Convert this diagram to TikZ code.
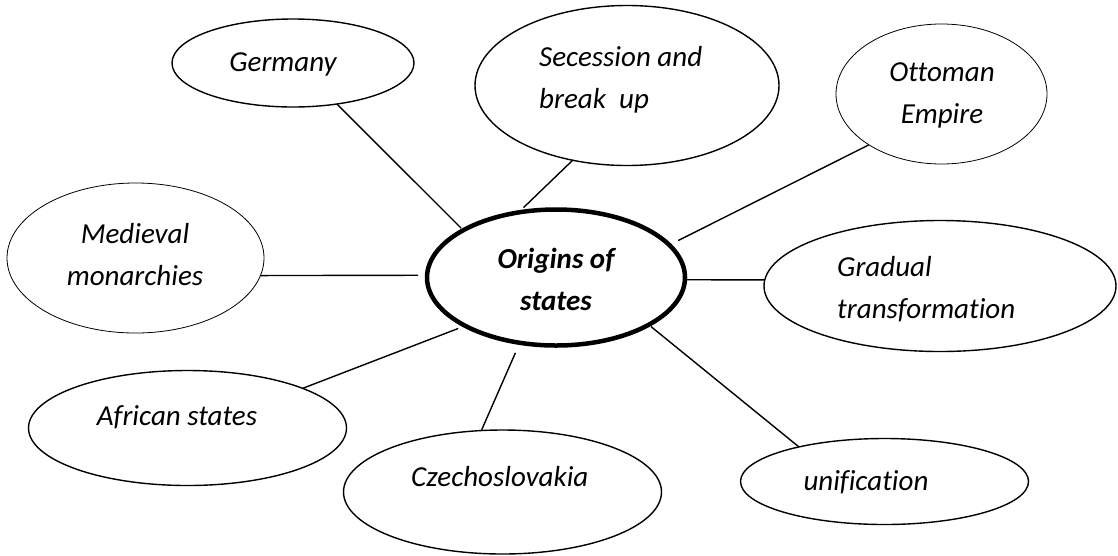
\documentclass[tikz,border=0pt]{standalone}
\usepackage{fontspec}
\setmainfont{Carlito}[Ligatures=NoCommon]
\usetikzlibrary{shapes.geometric}
\begin{document}
\begin{tikzpicture}[x=1pt,y=-1pt,
  bubble/.style={ellipse,draw,line width=1.4pt,inner sep=0pt,outer sep=0pt},
  thinbubble/.style={bubble,line width=0.8pt},
  hub/.style={bubble,line width=4.5pt},
  lbl/.style={font=\fontsize{29}{42}\selectfont\itshape,inner sep=0pt,anchor=base},
  link/.style={line width=1.4pt}]
\useasboundingbox (0,0) rectangle (1118,555);

% the central topic and the eight surrounding bubbles
\node[hub,minimum width=258pt,minimum height=136pt] (hub) at (556,277.5) {};
\node[bubble,minimum width=242pt,minimum height=88pt] (germany) at (293,63) {};
\node[bubble,minimum width=304pt,minimum height=160pt] (secession) at (627,85.5) {};
\node[thinbubble,minimum width=211pt,minimum height=140pt] (ottoman) at (941.5,94) {};
\node[thinbubble,minimum width=257pt,minimum height=150pt] (medieval) at (135.5,258) {};
\node[bubble,minimum width=352pt,minimum height=131pt] (gradual) at (940,286) {};
\node[bubble,minimum width=318pt,minimum height=115pt] (african) at (187.5,428) {};
\node[bubble,minimum width=318pt,minimum height=124pt] (czech) at (502.5,492) {};
\node[bubble,minimum width=288pt,minimum height=86pt] (unif) at (884.5,481.5) {};

% texts (a two-line node sits on the baseline of its last line)
\node[lbl,font=\fontsize{29}{42}\selectfont\bfseries\itshape,align=center] (hub-t) at (556,310) {Origins of\\states};
\node[lbl] (germany-t) at (283,71) {Germany};
\node[lbl,anchor=base west,align=left] (secession-t) at (539,108) {Secession and\\break\ \ up};
\node[lbl,align=center] (ottoman-t) at (942,123) {Ottoman\\Empire};
\node[lbl,align=center] (medieval-t) at (135,285) {Medieval\\monarchies};
\node[lbl,anchor=base west,align=left] (gradual-t) at (837,318) {Gradual\\transformation};
\node[lbl] (african-t) at (177,425) {African states};
\node[lbl,anchor=base west] (czech-t) at (411,486) {Czechoslovakia};
\node[lbl] (unif-t) at (866,490) {unification};

% spokes
\draw[link,shorten <=3pt] (hub.153.3) -- (germany.-43.6);
\draw[link,shorten <=7pt] (hub.120.9) -- (secession.-126.8);
\draw[link,shorten <=10pt] (hub.16.7) -- (ottoman.-145.6);
\draw[link,shorten <=9pt] (hub.179.1) -- (medieval.-8.5);
\draw[link] (hub.-1.1) -- (gradual.178);
\draw[link,shorten <=7.5pt] (hub.-152.5) -- (african.19.4);
\draw[link,shorten <=11pt] (hub.-119.1) -- (czech.109.8);
\draw[link,shorten <=3pt] (hub.-27.2) -- (unif.158.7);
\end{tikzpicture}
\end{document}
